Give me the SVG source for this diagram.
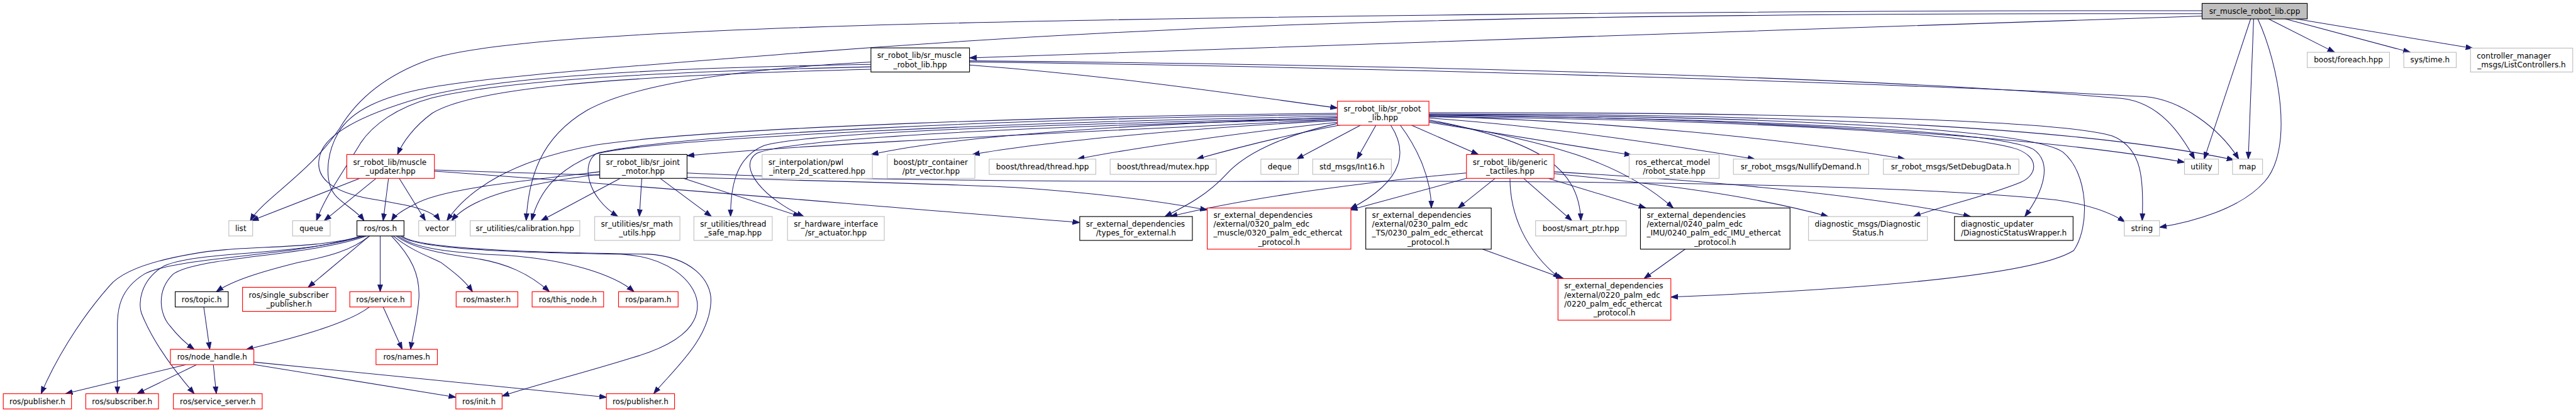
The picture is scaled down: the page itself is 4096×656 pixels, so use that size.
<svg xmlns="http://www.w3.org/2000/svg" width="4096" height="656" viewBox="0 0 4096 656">
<defs>
<marker id="ah" markerUnits="userSpaceOnUse" markerWidth="13" markerHeight="10" viewBox="0 0 13 10" refX="12" refY="5" orient="auto"><path d="M0,0.8 L12,5 L0,9.2 z" fill="#191970" stroke="#191970" stroke-width="1"/></marker>
<style>
.e{fill:none;stroke:#191970;stroke-width:1.1;marker-end:url(#ah)}
rect{stroke-width:1.2}
rect.g{fill:#fff;stroke:#bfbfbf}
rect.k{fill:#fff;stroke:#000}
rect.r{fill:#fff;stroke:#ff0000}
rect.c{fill:#bfbfbf;stroke:#000}
text{font-family:"DejaVu Sans","Liberation Sans",sans-serif;font-size:12.75px;fill:#000}
.m{text-anchor:middle}
</style>
</defs>
<rect width="4096" height="656" fill="#fff"/>
<g transform="scale(0.94749)">
<g id="edges">
<path class="e" d="M3695.5,27 C3300,39 2000,84 1627,97"/>
<path class="e" d="M3695.5,18 C3000,17 2000,27 1440,43 C1050,55 800,72 720,100 C650,125 600,165 570,215 C520,290 440,335 420,370"/>
<path class="e" d="M3695.5,23 C3000,22 2500,30 2160,42 C1800,55 1500,76 1300,92 C1000,115 800,132 720,147 C640,162 590,185 568,222 C545,262 545,310 565,330 C580,345 600,355 611,370"/>
<path class="e" d="M3777,31.7 L3699,266.7"/>
<path class="e" d="M3782,31.7 L3773,266.7"/>
<path class="e" d="M3789,31.7 C3825,110 3850,250 3800,305 C3760,350 3680,372 3624,381"/>
<path class="e" d="M3807,31.7 L3918,87.7"/>
<path class="e" d="M3835,31.7 L4045,87.7"/>
<path class="e" d="M3853,31.7 L4150,81"/>
<path class="e" d="M1627,109 C1900,130 2100,162 2244.5,181"/>
<path class="e" d="M1461.6,116 C1000,128 790,150 725,190 C695,212 676,238 667,259"/>
<path class="e" d="M1461.6,108 C1100,114 850,128 720,160 C640,182 560,212 540,252 C520,298 560,322 620,333 C680,343 725,350 738,370"/>
<path class="e" d="M1461.6,112 C1100,120 850,135 725,164 C665,180 625,210 605,240 C575,290 545,330 531,370"/>
<path class="e" d="M1461.6,104 C1200,118 1050,148 985,185 C905,232 887,300 883,370"/>
<path class="e" d="M1627,102 C2300,108 3150,128 3560,165 C3625,172 3660,225 3683,266.7"/>
<path class="e" d="M1627,104 C2300,112 3200,140 3600,162 C3660,167 3725,215 3757,266.7"/>
<path class="e" d="M2244.5,200 C1900,218 1400,238 1153,261"/>
<path class="e" d="M2244.5,197 C1900,208 1600,228 1462,259"/>
<path class="e" d="M2244.5,202 C2000,214 1750,238 1632,259"/>
<path class="e" d="M2244.5,205 C2100,220 1900,248 1808,266.7"/>
<path class="e" d="M2250,209.5 C2150,228 2060,252 2008,266.7"/>
<path class="e" d="M2283,210 L2176,266.7"/>
<path class="e" d="M2309,210 L2277,266.7"/>
<path class="e" d="M2369,210 L2481,259"/>
<path class="e" d="M2350,210 C2380,250 2402,300 2402,348.7"/>
<path class="e" d="M2334,210 C2360,250 2362,300 2266,350"/>
<path class="e" d="M2244.5,207 C2150,228 2090,258 2060,290 C2025,328 1990,345 1955,363"/>
<path class="e" d="M2398,201 C2580,235 2650,280 2653,370"/>
<path class="e" d="M2398,203 C2600,238 2720,270 2808,348.7"/>
<path class="e" d="M2398,205 L2738,260"/>
<path class="e" d="M2398,198 C2600,212 2800,243 2945,266.7"/>
<path class="e" d="M2398,195 C2700,203 3000,233 3197,266.7"/>
<path class="e" d="M2398,193 C2900,197 3400,225 3666,272"/>
<path class="e" d="M2398,191 C2900,191 3450,205 3749,268"/>
<path class="e" d="M2398,189 C2900,188 3450,198 3545,228 C3595,248 3598,300 3595,370"/>
<path class="e" d="M2398,196 C2900,200 3300,222 3385,250 C3425,265 3418,295 3390,306 C3330,330 3260,345 3211,363"/>
<path class="e" d="M2398,194 C2900,197 3350,218 3412,250 C3445,272 3430,320 3398,363"/>
<path class="e" d="M2398,192 C2900,194 3400,212 3462,255 C3505,290 3508,380 3480,420 C3400,470 3000,490 2804,498"/>
<path class="e" d="M2244.5,190 C1800,194 1200,213 1000,243 C860,268 785,318 750,370"/>
<path class="e" d="M2244.5,192 C1700,199 1150,224 1005,256 C935,283 905,320 892,370"/>
<path class="e" d="M2244.5,195 C1700,204 1100,232 1000,258 C975,275 985,330 1037,363"/>
<path class="e" d="M2244.5,198 C1700,209 1350,224 1282,244 C1232,264 1226,320 1226,363"/>
<path class="e" d="M2244.5,200 C1700,211 1322,234 1270,257 C1235,280 1285,335 1349,363"/>
<path class="e" d="M1041,299 L908,370"/>
<path class="e" d="M1077,299 L1073,363"/>
<path class="e" d="M1108,299 L1194,363"/>
<path class="e" d="M1147,299 L1343,363"/>
<path class="e" d="M1006.5,288 C860,305 735,318 695,343 C672,354 662,362 657,370"/>
<path class="e" d="M1006.5,292 C880,308 790,330 758,370"/>
<path class="e" d="M1153,290 C1400,302 1800,305 2200,304 C2700,303 3200,310 3450,335 C3500,342 3540,355 3566,372"/>
<path class="e" d="M604,299 L422,370"/>
<path class="e" d="M631,299 L544,370"/>
<path class="e" d="M652,299 L643,370"/>
<path class="e" d="M670,299 L714,370"/>
<path class="e" d="M729,287 C1000,305 1400,340 1812,373"/>
<path class="e" d="M729,285 C1100,298 1500,304 1700,314 C1850,324 1950,338 2026,352"/>
<path class="e" d="M2461,290 C2300,304 2100,330 1964,363"/>
<path class="e" d="M2461,299 L2266,352"/>
<path class="e" d="M2509,299 L2447,348.7"/>
<path class="e" d="M2534,299 C2534,360 2560,420 2618,467"/>
<path class="e" d="M2557,299 L2638,370"/>
<path class="e" d="M2598,299 L2762,348.7"/>
<path class="e" d="M2608,291 C2800,310 2950,330 3068,363"/>
<path class="e" d="M2608,288 C2900,305 3150,330 3307,363"/>
<path class="e" d="M2488,417.7 L2624,467"/>
<path class="e" d="M2828,417.7 L2759,467"/>
<path class="e" d="M611,395.6 C520,420 400,410 321,426 C240,440 200,460 184,479 C130,540 90,610 69,660"/>
<path class="e" d="M606,395.6 C500,430 300,430 243,459 C200,485 197,520 197,546 C197,600 197,640 197,660"/>
<path class="e" d="M611,395.6 C500,430 330,420 275,446 C235,470 230,510 239,529 C260,580 300,630 326,660"/>
<path class="e" d="M615,395.6 C520,430 330,430 290,460 C260,490 270,530 285,546 C300,565 315,578 326,585.7"/>
<path class="e" d="M620,395.6 C590,420 551,430 500,440 C440,455 390,470 363,489"/>
<path class="e" d="M620,395.6 L517,481.7"/>
<path class="e" d="M638,395.6 L638,489"/>
<path class="e" d="M657,395.6 C690,430 705,460 703,500 C700,540 692,565 689,585.7"/>
<path class="e" d="M660,395.6 C690,420 720,430 740,440 C760,455 780,470 793,489"/>
<path class="e" d="M665,395.6 C690,415 740,425 790,432 C850,440 890,460 922,489"/>
<path class="e" d="M668,395.6 C700,420 780,425 850,428 C950,435 1030,460 1064,489"/>
<path class="e" d="M672,395.6 C700,420 900,424 1041,426 C1120,430 1165,470 1170,506 C1175,550 1130,580 1060,600 C980,625 900,645 842.6,664"/>
<path class="e" d="M675,395.6 C700,420 950,424 1087,426 C1160,430 1195,470 1193,506 C1190,570 1130,620 1097,660"/>
<path class="e" d="M620,514.6 C580,545 480,570 413,586"/>
<path class="e" d="M643,514.6 L675,585.7"/>
<path class="e" d="M342,514.6 L352,585.7"/>
<path class="e" d="M312,611.3 L110,660"/>
<path class="e" d="M330,611.3 L230,660"/>
<path class="e" d="M358,611.3 L363,660"/>
<path class="e" d="M426,611 L765,666"/>
<path class="e" d="M426,607 L1018,666"/>
</g>
<g id="nodes">
<g id="n_cpp"><rect class="c" x="3695.5" y="5.7" width="176.5" height="26"/><text class="m" x="3783.75" y="23.2">sr_muscle_robot_lib.cpp</text></g>
<g id="n_smh"><rect class="k" x="1461.6" y="80.3" width="165.4" height="40.4"/><text x="1472.1" y="97.5">sr_robot_lib/sr_muscle</text><text class="m" x="1544.3" y="112.5">_robot_lib.hpp</text></g>
<g id="n_foreach"><rect class="g" x="3872" y="87.7" width="138" height="25.6"/><text class="m" x="3941" y="105">boost/foreach.hpp</text></g>
<g id="n_time"><rect class="g" x="4034" y="87.7" width="88" height="25.6"/><text class="m" x="4078" y="105">sys/time.h</text></g>
<g id="n_ctrl"><rect class="g" x="4146" y="80.7" width="171.5" height="40"/><text x="4156.5" y="97.7">controller_manager</text><text class="m" x="4231.75" y="112.7">_msgs/ListControllers.h</text></g>
<g id="n_srl"><rect class="r" x="2244.5" y="169.7" width="153.5" height="40.3"/><text x="2255" y="186.85">sr_robot_lib/sr_robot</text><text class="m" x="2321.25" y="201.85">_lib.hpp</text></g>
<g id="n_mu"><rect class="r" x="582" y="259" width="147" height="40"/><text x="592.5" y="276">sr_robot_lib/muscle</text><text class="m" x="655.5" y="291">_updater.hpp</text></g>
<g id="n_jm"><rect class="k" x="1006.5" y="259" width="146.5" height="40"/><text x="1017" y="276">sr_robot_lib/sr_joint</text><text class="m" x="1079.75" y="291">_motor.hpp</text></g>
<g id="n_pwl"><rect class="g" x="1279" y="259" width="185" height="40"/><text x="1289.5" y="276">sr_interpolation/pwl</text><text class="m" x="1371.5" y="291">_interp_2d_scattered.hpp</text></g>
<g id="n_ptrv"><rect class="g" x="1489" y="259" width="147" height="40"/><text x="1499.5" y="276">boost/ptr_container</text><text class="m" x="1562.5" y="291">/ptr_vector.hpp</text></g>
<g id="n_thread"><rect class="g" x="1660" y="266.7" width="179" height="25.6"/><text class="m" x="1749.5" y="284">boost/thread/thread.hpp</text></g>
<g id="n_mutex"><rect class="g" x="1863" y="266.7" width="178" height="25.6"/><text class="m" x="1952" y="284">boost/thread/mutex.hpp</text></g>
<g id="n_deque"><rect class="g" x="2116" y="266.7" width="63" height="25.6"/><text class="m" x="2147.5" y="284">deque</text></g>
<g id="n_int16"><rect class="g" x="2203" y="266.7" width="132" height="25.6"/><text class="m" x="2269" y="284">std_msgs/Int16.h</text></g>
<g id="n_gt"><rect class="r" x="2461" y="259" width="147" height="40"/><text x="2471.5" y="276">sr_robot_lib/generic</text><text class="m" x="2534.5" y="291">_tactiles.hpp</text></g>
<g id="n_rstate"><rect class="g" x="2734" y="259" width="151" height="40"/><text x="2744.5" y="276">ros_ethercat_model</text><text class="m" x="2809.5" y="291">/robot_state.hpp</text></g>
<g id="n_nullify"><rect class="g" x="2909" y="266.7" width="227" height="25.6"/><text class="m" x="3022.5" y="284">sr_robot_msgs/NullifyDemand.h</text></g>
<g id="n_setdbg"><rect class="g" x="3160.6" y="266.7" width="227.4" height="25.6"/><text class="m" x="3274.3" y="284">sr_robot_msgs/SetDebugData.h</text></g>
<g id="n_utility"><rect class="g" x="3666" y="266.7" width="57" height="25.6"/><text class="m" x="3694.5" y="284">utility</text></g>
<g id="n_map"><rect class="g" x="3746.6" y="266.7" width="50.4" height="25.6"/><text class="m" x="3771.8" y="284">map</text></g>
<g id="n_list"><rect class="g" x="384" y="370" width="40" height="25.6"/><text class="m" x="404" y="387.3">list</text></g>
<g id="n_queue"><rect class="g" x="491" y="370" width="63" height="25.6"/><text class="m" x="522.5" y="387.3">queue</text></g>
<g id="n_rosh"><rect class="k" x="599" y="370" width="79" height="25.6"/><text class="m" x="638.5" y="387.3">ros/ros.h</text></g>
<g id="n_vector"><rect class="g" x="702.6" y="370" width="62" height="25.6"/><text class="m" x="733.6" y="387.3">vector</text></g>
<g id="n_calib"><rect class="g" x="789" y="370" width="184" height="25.6"/><text class="m" x="881" y="387.3">sr_utilities/calibration.hpp</text></g>
<g id="n_math"><rect class="g" x="998" y="363" width="143" height="40"/><text x="1008.5" y="380">sr_utilities/sr_math</text><text class="m" x="1069.5" y="395">_utils.hpp</text></g>
<g id="n_tsm"><rect class="g" x="1164.5" y="363" width="131.5" height="40"/><text x="1175" y="380">sr_utilities/thread</text><text class="m" x="1230.25" y="395">_safe_map.hpp</text></g>
<g id="n_act"><rect class="g" x="1321.6" y="363" width="162.4" height="40"/><text x="1332.1" y="380">sr_hardware_interface</text><text class="m" x="1402.8" y="395">/sr_actuator.hpp</text></g>
<g id="n_types"><rect class="k" x="1812" y="363" width="189" height="40"/><text x="1822.5" y="380">sr_external_dependencies</text><text class="m" x="1906.5" y="395">/types_for_external.h</text></g>
<g id="n_p0320"><rect class="r" x="2026" y="348.7" width="241" height="69"/><text x="2036.5" y="365.2">sr_external_dependencies</text><text x="2036.5" y="380.2">/external/0320_palm_edc</text><text x="2036.5" y="395.2">_muscle/0320_palm_edc_ethercat</text><text class="m" x="2146.5" y="410.2">_protocol.h</text></g>
<g id="n_p0230"><rect class="k" x="2292" y="348.7" width="210.6" height="69"/><text x="2302.5" y="365.2">sr_external_dependencies</text><text x="2302.5" y="380.2">/external/0230_palm_edc</text><text x="2302.5" y="395.2">_TS/0230_palm_edc_ethercat</text><text class="m" x="2397.3" y="410.2">_protocol.h</text></g>
<g id="n_smart"><rect class="g" x="2577" y="370" width="152" height="25.6"/><text class="m" x="2653" y="387.3">boost/smart_ptr.hpp</text></g>
<g id="n_p0240"><rect class="k" x="2753" y="348.7" width="251" height="69"/><text x="2763.5" y="365.2">sr_external_dependencies</text><text x="2763.5" y="380.2">/external/0240_palm_edc</text><text x="2763.5" y="395.2">_IMU/0240_palm_edc_IMU_ethercat</text><text class="m" x="2878.5" y="410.2">_protocol.h</text></g>
<g id="n_diagmsg"><rect class="g" x="3035" y="363" width="199.5" height="40"/><text x="3045.5" y="380">diagnostic_msgs/Diagnostic</text><text class="m" x="3134.75" y="395">Status.h</text></g>
<g id="n_diagupd"><rect class="k" x="3280" y="363" width="199" height="40"/><text x="3290.5" y="380">diagnostic_updater</text><text class="m" x="3379.5" y="395">/DiagnosticStatusWrapper.h</text></g>
<g id="n_string"><rect class="g" x="3565" y="370" width="59" height="25.6"/><text class="m" x="3594.5" y="387.3">string</text></g>
<g id="n_p0220"><rect class="r" x="2614.6" y="467" width="189.4" height="69.7"/><text x="2625.1" y="483.85">sr_external_dependencies</text><text x="2625.1" y="498.85">/external/0220_palm_edc</text><text x="2625.1" y="513.85">/0220_palm_edc_ethercat</text><text class="m" x="2709.3" y="528.85">_protocol.h</text></g>
<g id="n_topic"><rect class="k" x="294" y="489" width="89" height="25.6"/><text class="m" x="338.5" y="506.3">ros/topic.h</text></g>
<g id="n_ssp"><rect class="r" x="407" y="481.7" width="156.5" height="40.3"/><text x="417.5" y="498.85">ros/single_subscriber</text><text class="m" x="485.25" y="513.85">_publisher.h</text></g>
<g id="n_service"><rect class="r" x="587" y="489" width="103" height="25.6"/><text class="m" x="638.5" y="506.3">ros/service.h</text></g>
<g id="n_master"><rect class="r" x="765.5" y="489" width="103.5" height="25.6"/><text class="m" x="817.25" y="506.3">ros/master.h</text></g>
<g id="n_thisnode"><rect class="r" x="893" y="489" width="120" height="25.6"/><text class="m" x="953" y="506.3">ros/this_node.h</text></g>
<g id="n_param"><rect class="r" x="1038" y="489" width="100" height="25.6"/><text class="m" x="1088" y="506.3">ros/param.h</text></g>
<g id="n_nh"><rect class="r" x="286" y="585.7" width="140" height="25.6"/><text class="m" x="356" y="603">ros/node_handle.h</text></g>
<g id="n_names"><rect class="r" x="631" y="585.7" width="103" height="25.6"/><text class="m" x="682.5" y="603">ros/names.h</text></g>
<g id="n_pub1"><rect class="r" x="5.5" y="660" width="114.5" height="25.6"/><text class="m" x="62.75" y="677.3">ros/publisher.h</text></g>
<g id="n_sub"><rect class="r" x="144" y="660" width="122" height="25.6"/><text class="m" x="205" y="677.3">ros/subscriber.h</text></g>
<g id="n_srvsrv"><rect class="r" x="291" y="660" width="149" height="25.6"/><text class="m" x="365.5" y="677.3">ros/service_server.h</text></g>
<g id="n_init"><rect class="r" x="765" y="660" width="77.6" height="25.6"/><text class="m" x="803.8" y="677.3">ros/init.h</text></g>
<g id="n_pub2"><rect class="r" x="1017.6" y="660" width="114.4" height="25.6"/><text class="m" x="1074.8" y="677.3">ros/publisher.h</text></g>
</g>
</g>
</svg>
